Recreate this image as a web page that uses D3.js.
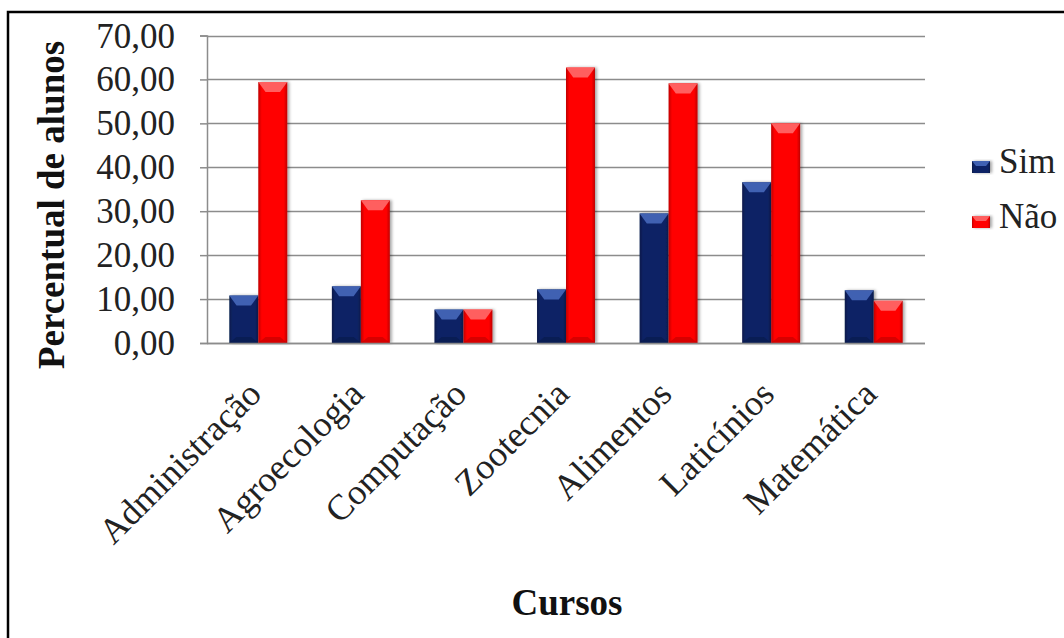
<!DOCTYPE html>
<html>
<head>
<meta charset="utf-8">
<script src="https://cdn.jsdelivr.net/npm/d3@7"></script>
<style>
  body { margin: 0; background: #fff; }
  svg { display: block; }
  svg text { font-family: 'Liberation Serif', 'Times New Roman', Tinos, 'DejaVu Serif', serif; }
</style>
</head>
<body>
<div id="chart"></div>
<script>
// data
const cursos = ['Administração', 'Agroecologia', 'Computação', 'Zootecnia', 'Alimentos', 'Laticínios', 'Matemática'];
const sim = [10.8, 12.9, 7.6, 12.2, 29.5, 36.6, 12.0];
const nao = [59.4, 32.5, 7.6, 62.7, 59.1, 50.0, 9.6];
const yTicks = [0, 10, 20, 30, 40, 50, 60, 70];
const seriesNames = ['Sim', 'Não'];

const W = 1064, H = 638;
const plot = {left: 207, right: 925, top: 35.5, bottom: 343};

const svg = d3.select('#chart').append('svg')
    .attr('width', W)
    .attr('height', H);

// bar bevel colours
const palette = {
    Sim: {base: '#0b2465', light: '#4a6cc0', dark: '#061843', edge: '#08194a'},
    'Não': {base: '#ff0000', light: '#ff7070', dark: '#b00000', edge: '#c00000'}
};

const defs = svg.append('defs');
const shadow = defs.append('filter').attr('id', 'shadow')
    .attr('x', '-20%').attr('y', '-10%').attr('width', '150%').attr('height', '120%');
shadow.append('feDropShadow')
    .attr('dx', 2).attr('dy', 0).attr('stdDeviation', 1.5)
    .attr('flood-color', '#000').attr('flood-opacity', 0.35);

seriesNames.forEach((s, i) => {
    const c = palette[s];
    const g = defs.append('linearGradient').attr('id', 'grad' + i)
        .attr('x1', '0%').attr('x2', '100%').attr('y1', '0%').attr('y2', '0%');
    g.append('stop').attr('offset', '0%').attr('stop-color', c.edge);
    g.append('stop').attr('offset', '12%').attr('stop-color', c.base);
    g.append('stop').attr('offset', '88%').attr('stop-color', c.base);
    g.append('stop').attr('offset', '100%').attr('stop-color', c.edge);
});

// outer frame (right and bottom fall off the page)
svg.append('path')
    .attr('d', `M8,${H + 2}V12H${W + 2}`)
    .attr('fill', 'none')
    .attr('stroke', '#000')
    .attr('stroke-width', 2.5);

const x = d3.scaleBand()
    .domain(cursos)
    .range([plot.left, plot.right])
    .paddingInner(0.435)
    .paddingOuter(0.2175);

const xSub = d3.scaleBand()
    .domain(seriesNames)
    .range([0, x.bandwidth()]);

const y = d3.scaleLinear()
    .domain([0, 70])
    .range([plot.bottom, plot.top]);

// gridlines
svg.append('g')
    .selectAll('line')
    .data(yTicks)
    .join('line')
    .attr('x1', plot.left)
    .attr('x2', plot.right)
    .attr('y1', d => Math.round(y(d)) + 0.5)
    .attr('y2', d => Math.round(y(d)) + 0.5)
    .attr('stroke', '#8c8c8c')
    .attr('stroke-width', 1.5);

// y axis
const yAxis = svg.append('g')
    .attr('transform', `translate(${plot.left},0)`)
    .call(d3.axisLeft(y).tickValues(yTicks).tickSize(7).tickPadding(25)
        .tickFormat(d => d3.format('.2f')(d).replace('.', ',')));
yAxis.attr('font-family', null);
yAxis.select('.domain').attr('stroke', '#8c8c8c').attr('stroke-width', 1.5);
yAxis.selectAll('.tick line').attr('stroke', '#8c8c8c').attr('stroke-width', 1.5);
yAxis.selectAll('.tick text')
    .attr('font-size', 35)
    .attr('fill', '#222')
    .attr('dy', '0.33em');

// bars
const rows = cursos.map((c, i) => ({curso: c, values: [sim[i], nao[i]]}));

const groups = svg.append('g')
    .selectAll('g')
    .data(rows)
    .join('g')
    .attr('transform', d => `translate(${x(d.curso)},0)`);

groups.each(function(d) {
    const grp = d3.select(this);
    d.values.forEach((v, i) => {
        const s = seriesNames[i];
        const c = palette[s];
        const bx = xSub(s), bw = xSub.bandwidth();
        const top = y(v), h = y(0) - y(v);
        const bev = Math.min(10, h / 2);
        const b = grp.append('g');
        b.append('rect')
            .attr('x', bx).attr('y', top)
            .attr('width', bw).attr('height', h)
            .attr('fill', `url(#grad${i})`)
            .attr('filter', 'url(#shadow)');
        // top bevel
        b.append('path')
            .attr('d', `M${bx},${top}H${bx + bw}L${bx + bw * 0.75},${top + bev}H${bx + bw * 0.25}Z`)
            .attr('fill', c.light)
            .attr('opacity', 0.85);
        // bottom bevel
        b.append('path')
            .attr('d', `M${bx},${top + h}H${bx + bw}L${bx + bw * 0.75},${top + h - bev * 0.6}H${bx + bw * 0.25}Z`)
            .attr('fill', c.dark)
            .attr('opacity', 0.5);
    });
});

// x axis line
svg.append('line')
    .attr('x1', plot.left).attr('x2', plot.right)
    .attr('y1', Math.round(y(0)) + 0.5).attr('y2', Math.round(y(0)) + 0.5)
    .attr('stroke', '#8c8c8c')
    .attr('stroke-width', 1.5);

// category labels
svg.append('g')
    .selectAll('text')
    .data(cursos)
    .join('text')
    .attr('transform', d => `translate(${x(d) + x.bandwidth() / 2 + 5},396) rotate(-45)`)
    .attr('text-anchor', 'end')
    .attr('font-size', 36)
    .attr('fill', '#222')
    .text(d => d);

// axis titles
svg.append('text')
    .attr('transform', `translate(64,205) rotate(-90)`)
    .attr('text-anchor', 'middle')
    .attr('font-size', 37)
    .attr('font-weight', 'bold')
    .attr('fill', '#111')
    .text('Percentual de alunos');

svg.append('text')
    .attr('x', 567)
    .attr('y', 615)
    .attr('text-anchor', 'middle')
    .attr('font-size', 37)
    .attr('font-weight', 'bold')
    .attr('fill', '#111')
    .text('Cursos');

// legend
const legend = svg.append('g')
    .selectAll('g')
    .data(seriesNames)
    .join('g')
    .attr('transform', (d, i) => `translate(972,${161 + i * 55})`);

legend.append('rect')
    .attr('width', 18).attr('height', 12)
    .attr('fill', (d, i) => `url(#grad${i})`)
    .attr('filter', 'url(#shadow)');
legend.append('path')
    .attr('d', 'M0,0H18L14,5H4Z')
    .attr('fill', d => palette[d].light)
    .attr('opacity', 0.85);
legend.append('text')
    .attr('x', 27)
    .attr('y', 12)
    .attr('font-size', 35)
    .attr('fill', '#222')
    .text(d => d);
</script>
</body>
</html>
